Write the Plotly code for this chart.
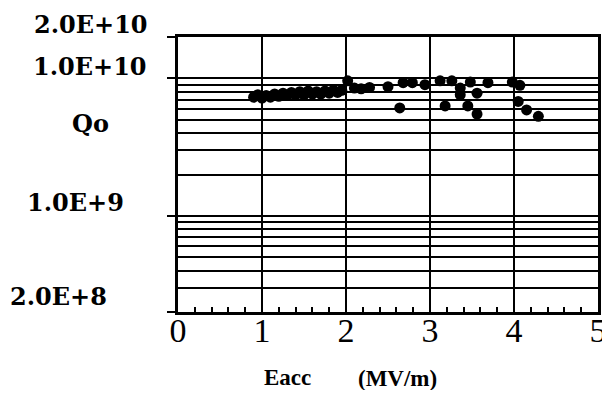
import plotly.graph_objects as go

# Data (Eacc in MV/m, Qo)
eacc = [0.90, 0.95, 1.00, 1.05, 1.10, 1.15, 1.20, 1.25, 1.30, 1.35, 1.40, 1.45,
        1.50, 1.55, 1.60, 1.65, 1.70, 1.75, 1.80, 1.85, 1.90, 1.95,
        2.02, 2.10, 2.18, 2.28, 2.50, 2.64, 2.68, 2.79, 2.94,
        3.12, 3.18, 3.26, 3.36, 3.36, 3.45, 3.48, 3.56, 3.56, 3.69,
        3.98, 4.05, 4.07, 4.15, 4.29]
qo = [7.3e9, 7.6e9, 7.2e9, 7.5e9, 7.3e9, 7.7e9, 7.4e9, 7.8e9, 7.5e9, 7.9e9, 7.6e9, 8.0e9,
      7.6e9, 8.1e9, 7.7e9, 8.0e9, 7.7e9, 8.1e9, 7.8e9, 8.2e9, 7.9e9, 8.2e9,
      9.6e9, 8.5e9, 8.4e9, 8.6e9, 8.7e9, 6.1e9, 9.3e9, 9.3e9, 9.0e9,
      9.6e9, 6.3e9, 9.6e9, 8.5e9, 7.6e9, 6.3e9, 9.4e9, 7.8e9, 5.5e9, 9.3e9,
      9.4e9, 6.8e9, 8.9e9, 5.9e9, 5.3e9]

grid_vals = [3e8, 4e8, 5e8, 6e8, 7e8, 8e8, 9e8, 1e9,
             2e9, 3e9, 4e9, 5e9, 6e9, 7e9, 8e9, 9e9, 1e10]
ytick_vals = [2e8, 1e9, 1e10, 2e10]
ytick_text = ["2.0E+8", "1.0E+9", "1.0E+10", "2.0E+10"]
x_ticks = [0, 1, 2, 3, 4, 5]

# page body has an 8px margin; size the figure so the page fits the 610x398 window
OFF = 8
W, H = 610 - OFF, 398 - 2 * OFF
L, R, T, B = 178 - OFF, 12, 37 - OFF, 78
pw, ph = W - L - R, H - T - B


def px(xpix):
    return (xpix - OFF - L) / pw


def py(ypix):
    return (H - B - (ypix - OFF)) / ph


fig = go.Figure()
fig.add_trace(go.Scatter(
    x=eacc, y=qo, mode="markers",
    marker=dict(color="black", size=11, line=dict(width=0)),
    showlegend=False, cliponaxis=False))

fig.update_layout(
    width=W, height=H,
    margin=dict(l=L, r=R, t=T, b=B, autoexpand=False),
    paper_bgcolor="white", plot_bgcolor="white",
    xaxis=dict(
        range=[0, 5], tickvals=x_ticks, ticktext=[str(v) for v in x_ticks],
        automargin=False, ticklabeloverflow="allow",
        showgrid=True, gridcolor="black", gridwidth=2,
        showline=True, linecolor="black", linewidth=3, mirror=True,
        ticks="inside", ticklen=6, tickwidth=1.5, tickcolor="black",
        minor=dict(dtick=0.2, ticks="inside", ticklen=5, tickwidth=1.5,
                   tickcolor="black", showgrid=False),
        tickfont=dict(family="Liberation Serif", size=34, color="black"),
        ticklabelstandoff=-14,
        zeroline=False, fixedrange=True,
    ),
    yaxis=dict(
        type="log", range=[8.30103, 10.30103],
        automargin=False,
        tickvals=grid_vals, showticklabels=False, ticks="",
        showgrid=True, gridcolor="black", gridwidth=1.5,
        showline=True, linecolor="black", linewidth=3, mirror=True,
        minor=dict(tickvals=ytick_vals, ticks="outside", ticklen=8,
                   tickwidth=1.5, tickcolor="black", showgrid=False),
        zeroline=False, fixedrange=True,
    ),
)

yfont = dict(family="DejaVu Serif", size=24, color="black", weight="bold")
label_pos = {"2.0E+10": (90.5, 24.5), "1.0E+10": (90, 66.5),
             "1.0E+9": (75, 202.5), "2.0E+8": (58, 296.5)}
for t in ytick_text:
    xp, yp = label_pos[t]
    fig.add_annotation(text=t, xref="paper", yref="paper", x=px(xp), y=py(yp),
                       xanchor="center", yanchor="middle", showarrow=False, font=yfont)

fig.add_annotation(text="Qo", xref="paper", yref="paper", x=px(90), y=py(123),
                   xanchor="center", yanchor="middle", showarrow=False, font=yfont)

tfont = dict(family="Liberation Serif", size=23, color="black", weight="bold")
fig.add_annotation(text="Eacc", xref="paper", yref="paper", x=px(287.5), y=py(377),
                   xanchor="center", yanchor="middle", showarrow=False, font=tfont)
fig.add_annotation(text="(MV/m)", xref="paper", yref="paper", x=px(397.5), y=py(378),
                   xanchor="center", yanchor="middle", showarrow=False, font=tfont)

fig.write_html("out.html")
